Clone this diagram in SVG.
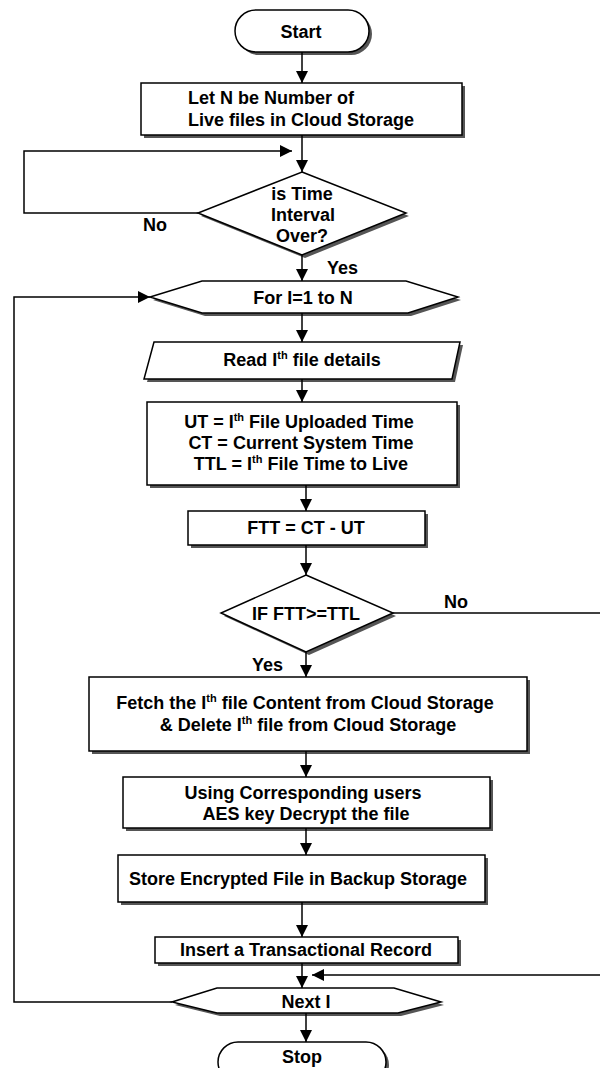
<svg xmlns="http://www.w3.org/2000/svg" width="600" height="1068" viewBox="0 0 600 1068">
<defs>
<style>
.n{fill:#fff;stroke:#000;stroke-width:1.5}
.s{fill:#555;stroke:none}
.t{font-family:"Liberation Sans",Arial,sans-serif;font-weight:bold;font-size:18px;fill:#000}
.c{text-anchor:middle}
.sup{font-size:11px}
.e{fill:none;stroke:#000;stroke-width:1.5}
</style>
<marker id="ah" markerUnits="userSpaceOnUse" markerWidth="12" markerHeight="12" viewBox="0 0 12 12" refX="12" refY="6" orient="auto">
<path d="M0,0 L12,6 L0,12 Z" fill="#000"/>
</marker>
</defs>
<rect width="600" height="1068" fill="#fff"/>

<g id="start">
<rect class="s" x="238" y="13" width="134" height="42" rx="21"/>
<rect class="n" x="235" y="10" width="134" height="42" rx="21"/>
<text class="t c" x="301" y="38">Start</text>
</g>

<g id="letN">
<rect class="s" x="144" y="86" width="321" height="52"/>
<rect class="n" x="141" y="83" width="321" height="52"/>
<text class="t" x="188" y="104">Let N be Number of</text>
<text class="t" x="188" y="126">Live files in Cloud Storage</text>
</g>

<g id="timeCheck">
<polygon class="s" points="305,175 409,216 305,258 201,216"/>
<polygon class="n" points="302,172 406,213 302,255 198,213"/>
<text class="t c" x="302" y="200">is Time</text>
<text class="t c" x="303" y="221">Interval</text>
<text class="t c" x="302" y="242">Over?</text>
</g>

<g id="forLoop">
<polygon class="s" points="205,284 409,284 461,300 411,316 205,316 153,300"/>
<polygon class="n" points="202,281 406,281 458,297 408,313 202,313 150,297"/>
<text class="t c" x="303" y="304">For I=1 to N</text>
</g>

<g id="readFile">
<polygon class="s" points="157,345 463,345 455,382 147,382"/>
<polygon class="n" points="154,342 460,342 452,379 144,379"/>
<text class="t c" x="302" y="366">Read I<tspan class="sup" dy="-7">th</tspan><tspan dy="7"> file details</tspan></text>
</g>

<g id="times">
<rect class="s" x="150" y="405" width="310" height="83"/>
<rect class="n" x="147" y="402" width="310" height="83"/>
<text class="t c" x="299" y="428">UT = I<tspan class="sup" dy="-7">th</tspan><tspan dy="7"> File Uploaded Time</tspan></text>
<text class="t c" x="301" y="449">CT = Current System Time</text>
<text class="t c" x="301" y="470">TTL = I<tspan class="sup" dy="-7">th</tspan><tspan dy="7"> File Time to Live</tspan></text>
</g>

<g id="ftt">
<rect class="s" x="191" y="514" width="237" height="34"/>
<rect class="n" x="188" y="511" width="237" height="34"/>
<text class="t c" x="306" y="534">FTT = CT - UT</text>
</g>

<g id="ifCheck">
<polygon class="s" points="309,578 396,616 309,655 224,616"/>
<polygon class="n" points="306,575 393,613 306,652 221,613"/>
<text class="t c" x="306" y="620">IF FTT&gt;=TTL</text>
</g>

<g id="fetch">
<rect class="s" x="92" y="680" width="438" height="74"/>
<rect class="n" x="89" y="677" width="438" height="74"/>
<text class="t c" x="305" y="709">Fetch the I<tspan class="sup" dy="-7">th</tspan><tspan dy="7"> file Content from Cloud Storage</tspan></text>
<text class="t c" x="308" y="731">&amp; Delete I<tspan class="sup" dy="-7">th</tspan><tspan dy="7"> file from Cloud Storage</tspan></text>
</g>

<g id="decrypt">
<rect class="s" x="126" y="780" width="367" height="51"/>
<rect class="n" x="123" y="777" width="367" height="51"/>
<text class="t c" x="303" y="799">Using Corresponding users</text>
<text class="t c" x="306" y="820">AES key Decrypt the file</text>
</g>

<g id="store">
<rect class="s" x="121" y="858" width="367" height="47"/>
<rect class="n" x="118" y="855" width="367" height="47"/>
<text class="t c" x="298" y="885">Store Encrypted File in Backup Storage</text>
</g>

<g id="insert">
<rect class="s" x="158" y="940" width="303" height="26"/>
<rect class="n" x="155" y="937" width="303" height="26"/>
<text class="t c" x="306" y="956">Insert a Transactional Record</text>
</g>

<g id="nextI">
<polygon class="s" points="220,991 397,991 444,1005 401,1016 220,1016 175,1005"/>
<polygon class="n" points="217,988 394,988 441,1002 398,1013 217,1013 172,1002"/>
<text class="t c" x="306" y="1008">Next I</text>
</g>

<g id="stop">
<rect class="s" x="221" y="1045" width="168" height="40" rx="20"/>
<rect class="n" x="218" y="1042" width="168" height="40" rx="20"/>
<text class="t c" x="302" y="1063">Stop</text>
</g>

<g id="connectors">
<line class="e" x1="302" y1="52" x2="302" y2="83" marker-end="url(#ah)"/>
<line class="e" x1="302" y1="135" x2="302" y2="172" marker-end="url(#ah)"/>
<polyline class="e" points="198,213 24,213 24,151 292,151" marker-end="url(#ah)"/>
<line class="e" x1="302" y1="255" x2="302" y2="281" marker-end="url(#ah)"/>
<line class="e" x1="302" y1="313" x2="302" y2="342" marker-end="url(#ah)"/>
<line class="e" x1="302" y1="379" x2="302" y2="402" marker-end="url(#ah)"/>
<line class="e" x1="306" y1="485" x2="306" y2="511" marker-end="url(#ah)"/>
<line class="e" x1="306" y1="545" x2="306" y2="575" marker-end="url(#ah)"/>
<line class="e" x1="393" y1="613" x2="600" y2="613"/>
<line class="e" x1="306" y1="652" x2="306" y2="677" marker-end="url(#ah)"/>
<line class="e" x1="306" y1="751" x2="306" y2="777" marker-end="url(#ah)"/>
<line class="e" x1="306" y1="828" x2="306" y2="855" marker-end="url(#ah)"/>
<line class="e" x1="302" y1="902" x2="302" y2="937" marker-end="url(#ah)"/>
<line class="e" x1="302" y1="963" x2="302" y2="988" marker-end="url(#ah)"/>
<line class="e" x1="600" y1="975" x2="312" y2="975" marker-end="url(#ah)"/>
<polyline class="e" points="172,1002 14,1002 14,297 150,297" marker-end="url(#ah)"/>
<line class="e" x1="306" y1="1013" x2="306" y2="1042" marker-end="url(#ah)"/>
<text class="t" x="143" y="231">No</text>
<text class="t" x="327" y="274">Yes</text>
<text class="t" x="444" y="608">No</text>
<text class="t" x="252" y="671">Yes</text>
</g>
</svg>
